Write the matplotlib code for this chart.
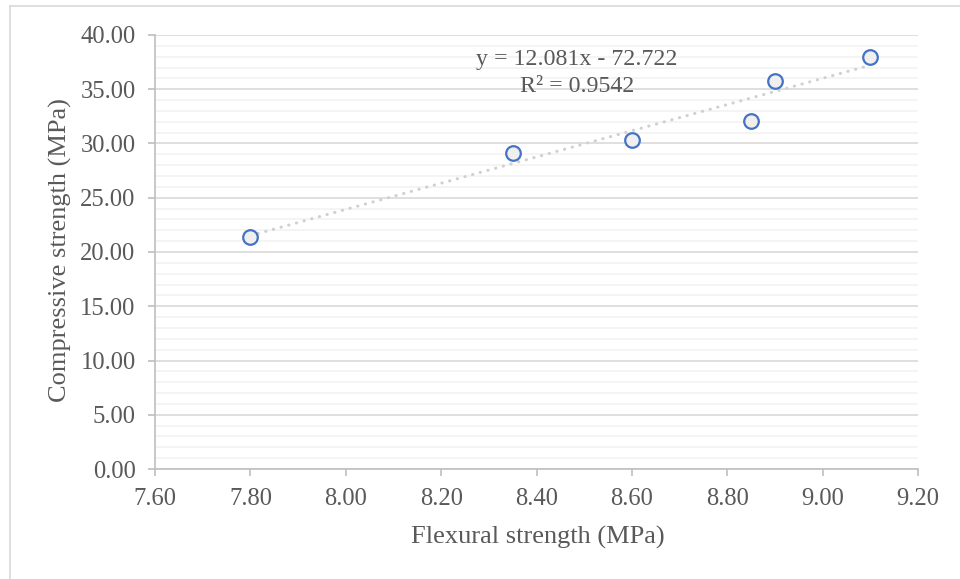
import matplotlib
matplotlib.use("Agg")
import matplotlib.pyplot as plt
from matplotlib.lines import Line2D
from matplotlib.ticker import MultipleLocator, FormatStrFormatter
import numpy as np

# Flexural vs compressive strength
flexural = [7.80, 8.35, 8.60, 8.85, 8.90, 9.10]
compressive = [21.4, 29.15, 30.3, 32.1, 35.8, 38.0]

# Linear trendline coefficients
slope = 12.081
intercept = -72.722
r_squared = 0.9542

W, H = 960, 579
plt.rcParams["font.family"] = ["Liberation Serif", "DejaVu Serif"]
fig = plt.figure(figsize=(W / 100, H / 100), dpi=100)

# Outer chart frame
frame_col = "#D9D9D9"
fig.add_artist(Line2D([10 / W, 1.0], [1 - 6 / H, 1 - 6 / H], color=frame_col, lw=1.2,
                      transform=fig.transFigure))
fig.add_artist(Line2D([10 / W, 10 / W], [1 - 6 / H, 0.0], color=frame_col, lw=1.2,
                      transform=fig.transFigure))

left, right, top, bottom = 155, 918, 35, 469
ax = fig.add_axes([left / W, 1 - bottom / H, (right - left) / W, (bottom - top) / H])

ax.set_xlim(7.6, 9.2)
ax.set_ylim(0, 40)
ax.xaxis.set_major_locator(MultipleLocator(0.2))
ax.yaxis.set_major_locator(MultipleLocator(5))
ax.yaxis.set_minor_locator(MultipleLocator(1))
ax.xaxis.set_major_formatter(FormatStrFormatter("%.2f"))
ax.yaxis.set_major_formatter(FormatStrFormatter("%.2f"))

ax.grid(True, which="major", axis="y", color="#D9D9D9", lw=1.2)
ax.grid(True, which="minor", axis="y", color="#F2F2F2", lw=1.2)
ax.set_axisbelow(True)

for s in ["top", "right"]:
    ax.spines[s].set_visible(False)
for s in ["left", "bottom"]:
    ax.spines[s].set_color("#BFBFBF")
    ax.spines[s].set_linewidth(1.2)

text_col = "#595959"
ax.tick_params(axis="both", which="major", direction="out", length=5, width=1.2,
               color="#BFBFBF", labelcolor=text_col, labelsize=17.7)
ax.tick_params(axis="y", which="minor", length=0)
ax.tick_params(axis="x", pad=9)
ax.tick_params(axis="y", pad=9)

# Trendline
xt = np.array([min(flexural), max(flexural)])
ax.plot(xt, slope * xt + intercept, color="#D0D0D0", lw=2.2, linestyle=(0, (0.1, 2.5)),
        dash_capstyle="round", zorder=2)

# Data points
ax.plot(flexural, compressive, linestyle="none", marker="o", ms=10.5,
        mfc="#EFEFEF", mec="#4472C4", mew=1.6, zorder=3)

ax.text(577 / W, 1 - 60 / H, f"y = {slope:.3f}x - {abs(intercept):.3f}",
        transform=fig.transFigure, ha="center", va="center", fontsize=17.2, color=text_col)
ax.text(577 / W, 1 - 87 / H, f"R² = {r_squared:.4f}",
        transform=fig.transFigure, ha="center", va="center", fontsize=17.2, color=text_col)

fig.text(538 / W, 1 - 537 / H, "Flexural strength (MPa)", ha="center", va="center",
         fontsize=19, color=text_col)
fig.text(60 / W, 1 - 250 / H, "Compressive strength (MPa)", ha="center", va="center",
         rotation=90, fontsize=19, color=text_col)

fig.savefig("out.png", dpi=100)
